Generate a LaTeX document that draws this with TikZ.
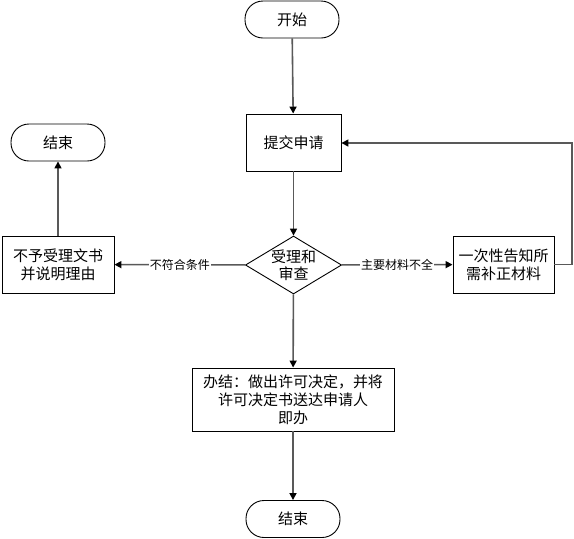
\documentclass[tikz,border=0pt]{standalone}
\usepackage{fontspec}
\newfontfamily\cjk{Noto Sans CJK SC}
\usetikzlibrary{shapes.geometric,arrows.meta}
\tikzset{
  term/.style={draw=black,line width=0.9pt,rounded corners=18pt,minimum width=94pt,minimum height=37pt,inner sep=0pt,font=\cjk\fontsize{15}{18}\selectfont,fill=white},
  procbox/.style={draw=black,line width=0.9pt,inner sep=0pt,align=center,font=\cjk\fontsize{15}{18}\selectfont,fill=white},
  decis/.style={draw=black,line width=0.9pt,diamond,aspect=1.66,minimum width=93pt,minimum height=56pt,inner sep=0pt,align=center,font=\cjk\fontsize{15}{17}\selectfont},
  conn/.style={draw=gray!70!black,line width=1.6pt,-{Triangle[length=7pt,width=7pt,fill=black,color=black]}},
  lbl/.style={fill=white,inner sep=1pt,font=\cjk\fontsize{12}{14}\selectfont}
}
\begin{document}
\begin{tikzpicture}[x=1pt,y=-1pt]
\useasboundingbox (0,0) rectangle (574,539);
\node[term] (start) at (292,19.5) {开始};
\node[procbox,minimum width=95pt,minimum height=57pt] (submit) at (293.5,142.5) {提交申请};
\node[decis] (review) at (293.5,265) {受理和\\审查};
\node[procbox,minimum width=112pt,minimum height=57pt] (reject) at (58,264.5) {不予受理文书\\并说明理由};
\node[term] (end1) at (58,142.5) {结束};
\node[procbox,minimum width=101pt,minimum height=57pt] (notify) at (503.5,264.5) {一次性告知所\\需补正材料};
\node[procbox,minimum width=202pt,minimum height=63pt] (done) at (293,399.5) {办结：做出许可决定，并将\\许可决定书送达申请人\\即办};
\node[term] (end2) at (293,519) {结束};
\coordinate (c1) at (572,264.5);
\coordinate (c2) at (572,143);
\draw[conn] (start) -- (submit);
\draw[conn] (submit) -- (review);
\draw[conn] (review) -- node[lbl,pos=0.5] {不符合条件} (reject);
\draw[conn] (review) -- node[lbl,pos=0.5] {主要材料不全} (notify);
\draw[conn] (reject) -- (end1);
\draw[conn] (notify.east) -- (c1) -- (c2) -- (submit.east |- c2);
\draw[conn] (review) -- (done);
\draw[conn] (done) -- (end2);
\end{tikzpicture}
\end{document}
